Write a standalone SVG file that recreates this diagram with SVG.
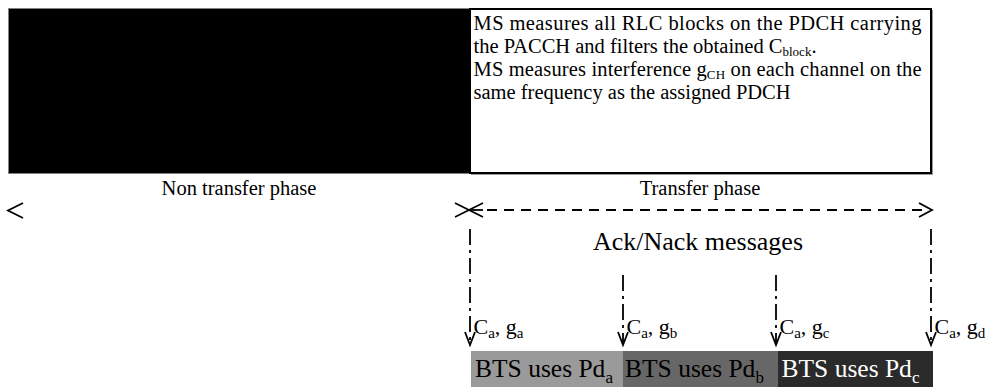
<svg xmlns="http://www.w3.org/2000/svg" width="991" height="387" viewBox="0 0 991 387">
<style>
text{font-family:"Liberation Serif","Times New Roman",serif;fill:#000}
.box{font-size:20.5px}
.phase{font-size:20.5px}
.ack{font-size:26px}
.meas{font-size:22px}
.bts{font-size:25.5px}
.ln{stroke:#000;stroke-width:1.8;fill:none}
.dash{stroke:#000;stroke-width:1.8;fill:none;stroke-dasharray:10 7}
.dd{stroke:#000;stroke-width:1.8;fill:none;stroke-dasharray:16 5 3 5}
</style>
<rect width="991" height="387" fill="#fff"/>
<g id="non-transfer-block">
<rect x="8.5" y="8.5" width="461" height="165" fill="#000" stroke="#808080" stroke-width="1"/>
</g>
<g id="transfer-info-box">
<rect x="471" y="10" width="462" height="165" fill="#9a9a9a"/>
<rect x="470" y="9" width="461" height="164" fill="#fff" stroke="#000" stroke-width="2"/>
<text class="box" x="473.5" y="30" textLength="448" lengthAdjust="spacing">MS measures all RLC blocks on the PDCH carrying</text>
<text class="box" x="473.5" y="53">the PACCH and filters the obtained C<tspan font-size="13" dy="3">block</tspan><tspan dy="-3">.</tspan></text>
<text class="box" x="473.5" y="76" textLength="448" lengthAdjust="spacing">MS measures interference g<tspan font-size="13" dy="3">CH</tspan><tspan dy="-3"> on each channel on the</tspan></text>
<text class="box" x="473.5" y="99">same frequency as the assigned PDCH</text>
</g>
<g id="phase-labels">
<text class="phase" x="239" y="195" text-anchor="middle">Non transfer phase</text>
<text class="phase" x="700" y="195" text-anchor="middle">Transfer phase</text>
</g>
<g id="ack-label">
<text class="ack" x="698" y="250" text-anchor="middle">Ack/Nack messages</text>
</g>
<g id="bts-boxes">
<rect x="471" y="351" width="152" height="36" fill="#9a9a9a"/>
<rect x="623" y="351" width="155" height="36" fill="#676767"/>
<rect x="778" y="351" width="155" height="36" fill="#2a2a2a"/>
<text class="bts" x="475" y="377">BTS uses Pd<tspan font-size="17" dy="6">a</tspan></text>
<text class="bts" x="625" y="377">BTS uses Pd<tspan font-size="17" dy="6">b</tspan></text>
<text class="bts" x="781.5" y="377" style="fill:#fff">BTS uses Pd<tspan font-size="17" dy="6">c</tspan></text>
</g>
<g id="measure-labels">
<text class="meas" x="473.5" y="334">C<tspan font-size="15" dy="4">a</tspan><tspan dy="-4">, g</tspan><tspan font-size="15" dy="4">a</tspan></text>
<text class="meas" x="626.5" y="334">C<tspan font-size="15" dy="4">a</tspan><tspan dy="-4">, g</tspan><tspan font-size="15" dy="4">b</tspan></text>
<text class="meas" x="779.5" y="334">C<tspan font-size="15" dy="4">a</tspan><tspan dy="-4">, g</tspan><tspan font-size="15" dy="4">c</tspan></text>
<text class="meas" x="934.5" y="334">C<tspan font-size="15" dy="4">a</tspan><tspan dy="-4">, g</tspan><tspan font-size="15" dy="4">d</tspan></text>
</g>
<g id="connectors">
<polyline class="ln" points="23,203 8,210.5 23,218"/>
<line class="ln" x1="455" y1="203" x2="483" y2="217"/>
<line class="ln" x1="455" y1="217" x2="483" y2="203"/>
<line class="ln" x1="469" y1="210" x2="483" y2="210"/>
<line class="dash" x1="487" y1="210" x2="925" y2="210"/>
<polyline class="ln" points="919,203 932,210 919,217"/>
<line class="dd" x1="470" y1="229" x2="470" y2="344"/>
<line class="dd" x1="623" y1="275" x2="623" y2="344"/>
<line class="dd" x1="776" y1="275" x2="776" y2="344"/>
<line class="dd" x1="931" y1="229" x2="931" y2="344"/>
<polyline class="ln" points="465,332 470,345 475,332"/>
<polyline class="ln" points="618,332 623,345 628,332"/>
<polyline class="ln" points="771,332 776,345 781,332"/>
<polyline class="ln" points="926,332 931,345 936,332"/>
</g>
</svg>
